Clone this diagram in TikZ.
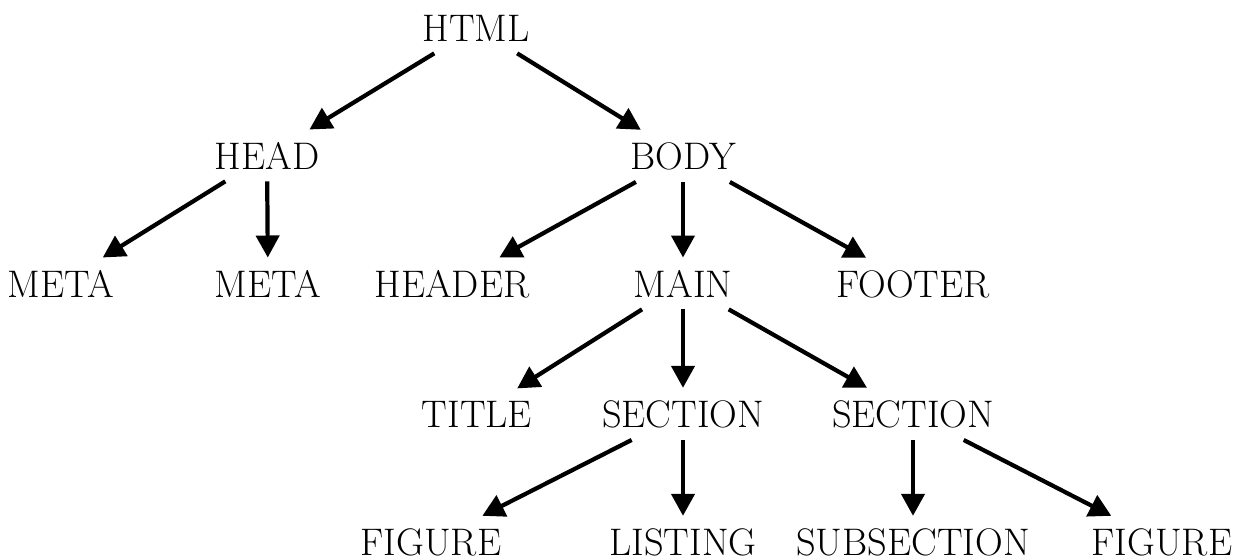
\documentclass[tikz,border=0pt]{standalone}
\usetikzlibrary{arrows.meta}
\begin{document}
\begin{tikzpicture}[x=0.664pt,y=-0.664pt,
  lbl/.style={anchor=base,inner sep=8pt,font=\fontsize{25.5}{30}\selectfont},
  arr/.style={line width=2.8pt,-{Triangle[length=14.6pt,width=15.3pt]}}]
\useasboundingbox (0,0) rectangle (1247,558);
\node[lbl] (html) at (476,41) {HTML};
\node[lbl] (head) at (267,169) {HEAD};
\node[lbl] (body) at (683,169) {BODY};
\node[lbl] (meta1) at (61,297) {META};
\node[lbl] (meta2) at (268,297) {META};
\node[lbl] (header) at (452,297) {HEADER};
\node[lbl] (main) at (683,297) {MAIN};
\node[lbl] (footer) at (913,297) {FOOTER};
\node[lbl] (title) at (477,427) {TITLE};
\node[lbl] (sec1) at (683,427) {SECTION};
\node[lbl] (sec2) at (913,427) {SECTION};
\node[lbl] (fig1) at (431,555) {FIGURE};
\node[lbl] (listing) at (683,555) {LISTING};
\node[lbl] (subsec) at (913,555) {SUBSECTION};
\node[lbl] (fig2) at (1162,555) {FIGURE};
\draw[arr] (html) -- (head);
\draw[arr] (html) -- (body);
\draw[arr] (head) -- (meta1);
\draw[arr] (head) -- (meta2);
\draw[arr] (body) -- (header);
\draw[arr] (body) -- (main);
\draw[arr] (body) -- (footer);
\draw[arr] (main) -- (title);
\draw[arr] (main) -- (sec1);
\draw[arr] (main) -- (sec2);
\draw[arr] (sec1) -- (fig1);
\draw[arr] (sec1) -- (listing);
\draw[arr] (sec2) -- (subsec);
\draw[arr] (sec2) -- (fig2);
\end{tikzpicture}
\end{document}
